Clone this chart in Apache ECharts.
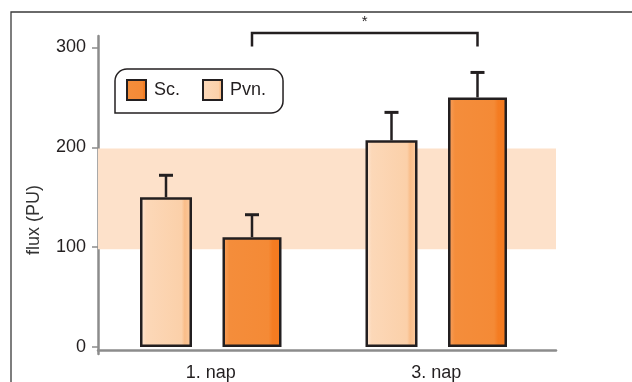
<!DOCTYPE html>
<html><head><meta charset="utf-8">
<script src="https://cdn.jsdelivr.net/npm/echarts@6/dist/echarts.min.js"></script>
<style>html,body{margin:0;padding:0;background:#fff}#c{width:632px;height:382px}</style>
</head><body><div id="c"></div>
<script>
// ---- data ----
const categories = ['1. nap', '3. nap'];
const pvnValues = [150, 207];
const pvnUpper = [172, 235];
const scValues = [110, 250];
const scUpper = [132.5, 275];
const yTicks = [0, 100, 200, 300];
const normalBand = [100, 200];
const sigPair = [0, 1];          // Sc. bars compared
const sigLevels = [314.5, 301];  // bracket top, leg end
const sigLabel = '*';

// ---- style / layout ----
const FONT = "'Liberation Sans', Arial, sans-serif";
const DARK = '#231f20';
const AXIS = '#8c8c8c';
const PW = 52, SW = 59, GAP = 30.5;
const groupW = PW + GAP + SW;
const pvnOff = -groupW / 2 + PW / 2;
const scOff = -groupW / 2 + PW + GAP + SW / 2;
const Y_MIN = -7, Y_MAX = 311.5;

const pvnFill = new echarts.graphic.LinearGradient(0, 0, 1, 0, [
  {offset: 0, color: '#fee9d8'}, {offset: 0.12, color: '#fcd8b8'},
  {offset: 0.8, color: '#fbd0a9'}, {offset: 0.86, color: '#f9bd89'},
  {offset: 1, color: '#fbcca2'}
]);
const scFill = new echarts.graphic.LinearGradient(0, 0, 1, 0, [
  {offset: 0, color: '#f7a263'}, {offset: 0.12, color: '#f48d3b'},
  {offset: 0.78, color: '#f48a36'}, {offset: 0.85, color: '#f47c22'},
  {offset: 1, color: '#f47a1f'}
]);

function errRender(off) {
  return function (params, api) {
    const b = api.coord([api.value(0), api.value(1)]);
    const u = api.coord([api.value(0), api.value(2)]);
    const x = b[0] + off;
    const st = {stroke: DARK, lineWidth: 2.5};
    return {type: 'group', children: [
      {type: 'line', shape: {x1: x, y1: b[1], x2: x, y2: u[1]}, style: st},
      {type: 'line', shape: {x1: x - 7, y1: u[1], x2: x + 7, y2: u[1]}, style: {stroke: DARK, lineWidth: 3}}
    ]};
  };
}

const chart = echarts.init(document.getElementById('c'));
chart.setOption({
  animation: false,
  textStyle: {fontFamily: FONT},
  graphic: [{type: 'rect', z: -10, shape: {x: 11, y: 12, width: 700, height: 500},
    style: {fill: 'none', stroke: '#3a3a3a', lineWidth: 1.3}}],
  grid: [
    {left: 98, width: 451, top: 36, height: 321},
    {left: 98, width: 458, top: 36, height: 321}
  ],
  legend: {
    data: ['Sc.', 'Pvn.'], left: 115, top: 69, orient: 'horizontal',
    padding: [10, 17, 12, 11], borderColor: DARK, borderWidth: 1.5, borderRadius: [12, 12, 12, 0],
    itemWidth: 19, itemHeight: 20, itemGap: 22, icon: 'rect',
    textStyle: {fontSize: 18, color: DARK, fontFamily: FONT, padding: [0, 0, 0, 3]}
  },
  xAxis: [
    {type: 'category', data: categories, gridIndex: 0,
     axisLine: {show: false, onZero: false}, axisTick: {show: false},
     axisLabel: {fontSize: 18, color: DARK, margin: 10, fontFamily: FONT}},
    {type: 'value', gridIndex: 1, min: 0, max: 1, splitLine: {show: false},
     axisLine: {show: true, onZero: true, lineStyle: {color: AXIS, width: 2.5}},
     axisTick: {show: false}, axisLabel: {show: false}}
  ],
  yAxis: [
    {type: 'value', gridIndex: 0, min: Y_MIN, max: Y_MAX,
     name: 'flux (PU)', nameLocation: 'middle', nameRotate: 90, nameGap: 55,
     nameTextStyle: {fontSize: 18, color: '#333', fontFamily: FONT, padding: [0, 50, 0, 0]},
     splitLine: {show: false},
     axisLine: {show: true, lineStyle: {color: AXIS, width: 2.5}},
     axisTick: {show: true, length: 6, customValues: yTicks, lineStyle: {color: AXIS, width: 1.5}},
     axisLabel: {customValues: yTicks, fontSize: 18, color: DARK, margin: 12, fontFamily: FONT}},
    {type: 'value', gridIndex: 1, min: Y_MIN, max: Y_MAX, show: false, splitLine: {show: false}}
  ],
  series: [
    {type: 'line', xAxisIndex: 1, yAxisIndex: 1, data: [], silent: true, z: 0,
     markArea: {silent: true, itemStyle: {color: '#fde1ca'},
       data: [[{yAxis: normalBand[0]}, {yAxis: normalBand[1]}]]}},
    {name: 'Pvn.', type: 'bar', xAxisIndex: 0, yAxisIndex: 0, data: pvnValues,
     barWidth: PW, barGap: (GAP / PW * 100) + '%',
     itemStyle: {color: pvnFill, borderColor: DARK, borderWidth: 2.5}, z: 3},
    {name: 'Sc.', type: 'bar', xAxisIndex: 0, yAxisIndex: 0, data: scValues,
     barWidth: SW, barGap: (GAP / PW * 100) + '%',
     itemStyle: {color: scFill, borderColor: DARK, borderWidth: 2.5}, z: 3},
    {type: 'custom', xAxisIndex: 0, yAxisIndex: 0, z: 4, silent: true,
     data: pvnValues.map((v, i) => [i, v, pvnUpper[i]]), renderItem: errRender(pvnOff)},
    {type: 'custom', xAxisIndex: 0, yAxisIndex: 0, z: 4, silent: true,
     data: scValues.map((v, i) => [i, v, scUpper[i]]), renderItem: errRender(scOff)},
    {type: 'custom', xAxisIndex: 0, yAxisIndex: 0, z: 4, silent: true,
     data: [[sigPair[0], sigPair[1], sigLevels[0], sigLevels[1]]],
     renderItem: function (params, api) {
       const x0 = api.coord([api.value(0), 0])[0] + scOff;
       const x1 = api.coord([api.value(1), 0])[0] + scOff;
       const yTop = api.coord([0, api.value(2)])[1];
       const yLeg = api.coord([0, api.value(3)])[1];
       return {type: 'group', children: [
         {type: 'polyline', shape: {points: [[x0, yLeg], [x0, yTop], [x1, yTop], [x1, yLeg]]},
          style: {stroke: DARK, lineWidth: 2.5, fill: null}},
         {type: 'text', x: (x0 + x1) / 2, y: yTop - 11,
          style: {text: sigLabel, fontSize: 15, fill: DARK, fontFamily: FONT, align: 'center', verticalAlign: 'middle'}}
       ]};
     }}
  ]
});
</script></body></html>
